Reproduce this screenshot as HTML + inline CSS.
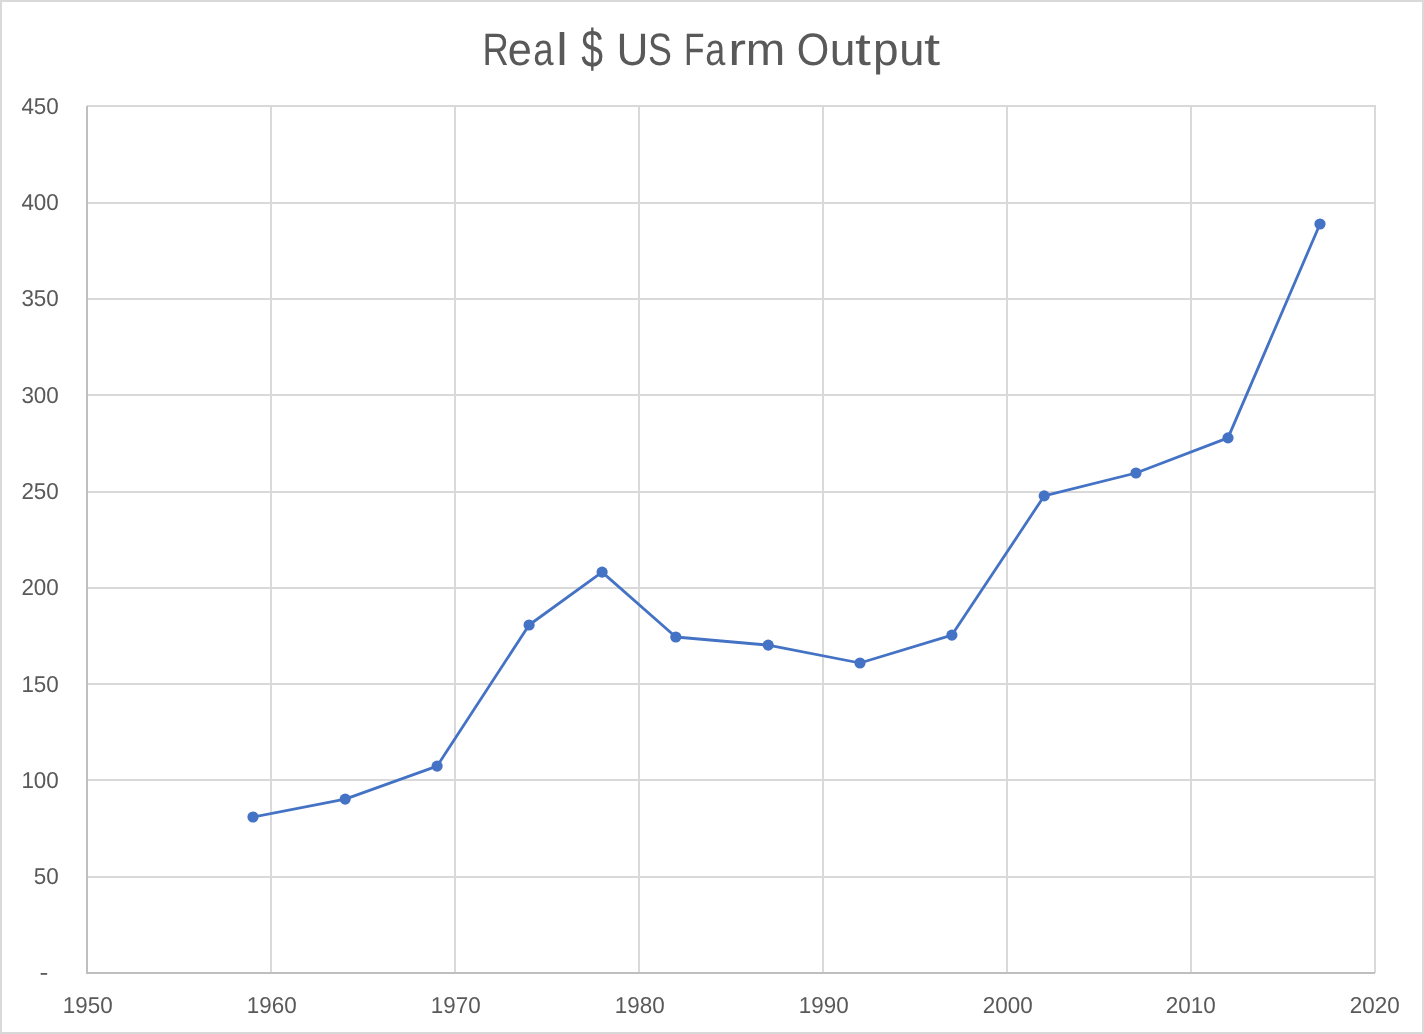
<!DOCTYPE html>
<html lang="en"><head><meta charset="utf-8"><title>Real $ US Farm Output</title>
<style>html,body{margin:0;padding:0;background:#fff}body{width:1424px;height:1034px;overflow:hidden}svg{display:block}
text{font-family:"Liberation Sans",Arial,sans-serif;fill:#595959;text-rendering:geometricPrecision}.ax{font-size:23px}.ti{font-size:45.6px}</style></head><body>
<svg width="1424" height="1034" viewBox="0 0 1424 1034">
<rect x="0" y="0" width="1424" height="1034" fill="#fff"/>
<rect x="1" y="1" width="1422" height="1032" fill="none" stroke="#D9D9D9" stroke-width="2"/>
<g fill="#D9D9D9" shape-rendering="crispEdges">
<rect x="87" y="105" width="1289" height="2"/>
<rect x="87" y="202" width="1289" height="2"/>
<rect x="87" y="298" width="1289" height="2"/>
<rect x="87" y="394" width="1289" height="2"/>
<rect x="87" y="491" width="1289" height="2"/>
<rect x="87" y="587" width="1289" height="2"/>
<rect x="87" y="683" width="1289" height="2"/>
<rect x="87" y="779" width="1289" height="2"/>
<rect x="87" y="876" width="1289" height="2"/>
<rect x="270" y="105" width="2" height="868"/>
<rect x="454" y="105" width="2" height="868"/>
<rect x="638" y="105" width="2" height="868"/>
<rect x="822" y="105" width="2" height="868"/>
<rect x="1006" y="105" width="2" height="868"/>
<rect x="1190" y="105" width="2" height="868"/>
<rect x="1374" y="105" width="2" height="868"/>
</g>
<g fill="#BFBFBF" shape-rendering="crispEdges">
<rect x="86" y="106" width="2" height="868"/>
<rect x="87" y="972" width="1288" height="2"/>
</g>
<polyline fill="none" stroke="#4472C4" stroke-width="2.8" stroke-linejoin="round" stroke-linecap="round" points="253.0,817.0 345.2,799.1 437.1,766.1 529.1,625.0 602.1,572.1 675.8,637.0 768.2,645.1 860.0,663.0 951.9,635.1 1044.2,495.9 1136.0,473.0 1228.0,437.9 1320.0,224.0"/>
<g fill="#4472C4">
<circle cx="253.0" cy="817.0" r="5.6"/>
<circle cx="345.2" cy="799.1" r="5.6"/>
<circle cx="437.1" cy="766.1" r="5.6"/>
<circle cx="529.1" cy="625.0" r="5.6"/>
<circle cx="602.1" cy="572.1" r="5.6"/>
<circle cx="675.8" cy="637.0" r="5.6"/>
<circle cx="768.2" cy="645.1" r="5.6"/>
<circle cx="860.0" cy="663.0" r="5.6"/>
<circle cx="951.9" cy="635.1" r="5.6"/>
<circle cx="1044.2" cy="495.9" r="5.6"/>
<circle cx="1136.0" cy="473.0" r="5.6"/>
<circle cx="1228.0" cy="437.9" r="5.6"/>
<circle cx="1320.0" cy="224.0" r="5.6"/>
</g>
<g class="ax" text-anchor="end">
<text transform="translate(58.8 113.6) scale(0.975 1)">450</text>
<text transform="translate(58.8 209.6) scale(0.975 1)">400</text>
<text transform="translate(58.8 305.6) scale(0.975 1)">350</text>
<text transform="translate(58.8 402.6) scale(0.975 1)">300</text>
<text transform="translate(58.8 498.6) scale(0.975 1)">250</text>
<text transform="translate(58.8 594.6) scale(0.975 1)">200</text>
<text transform="translate(58.8 691.6) scale(0.975 1)">150</text>
<text transform="translate(58.8 787.6) scale(0.975 1)">100</text>
<text transform="translate(58.8 883.6) scale(0.975 1)">50</text>
<text transform="translate(48.4 979.7) scale(1.15 1)">-</text>
</g>
<g class="ax" text-anchor="middle">
<text transform="translate(87.7 1012.6) scale(0.975 1)">1950</text>
<text transform="translate(271.7 1012.6) scale(0.975 1)">1960</text>
<text transform="translate(455.7 1012.6) scale(0.975 1)">1970</text>
<text transform="translate(639.7 1012.6) scale(0.975 1)">1980</text>
<text transform="translate(823.7 1012.6) scale(0.975 1)">1990</text>
<text transform="translate(1007.8 1012.6) scale(0.975 1)">2000</text>
<text transform="translate(1190.8 1012.6) scale(0.975 1)">2010</text>
<text transform="translate(1374.8 1012.6) scale(0.975 1)">2020</text>
</g>
<text class="ti" y="64.6"><tspan x="482.51" y="64.6" textLength="26.37" lengthAdjust="spacingAndGlyphs">R</tspan><tspan x="507.84" y="64.6" textLength="24.11" lengthAdjust="spacingAndGlyphs">e</tspan><tspan x="533.17" y="64.6" textLength="20.33" lengthAdjust="spacingAndGlyphs">a</tspan><tspan x="556.39" y="64.6" textLength="11.49" lengthAdjust="spacingAndGlyphs">l</tspan> <tspan x="581.23" y="67.1" font-size="53.4" textLength="21.75" lengthAdjust="spacingAndGlyphs">$</tspan> <tspan x="616.58" y="64.6" textLength="31.96" lengthAdjust="spacingAndGlyphs">U</tspan><tspan x="647.88" y="64.6" textLength="23.90" lengthAdjust="spacingAndGlyphs">S</tspan> <tspan x="683.95" y="64.6" textLength="20.50" lengthAdjust="spacingAndGlyphs">F</tspan><tspan x="705.20" y="64.6" textLength="20.00" lengthAdjust="spacingAndGlyphs">a</tspan><tspan x="728.22" y="64.6" textLength="17.78" lengthAdjust="spacingAndGlyphs">r</tspan><tspan x="745.69" y="64.6" textLength="39.55" lengthAdjust="spacingAndGlyphs">m</tspan> <tspan x="796.77" y="64.6" textLength="32.48" lengthAdjust="spacingAndGlyphs">O</tspan><tspan x="829.81" y="64.6" textLength="25.70" lengthAdjust="spacingAndGlyphs">u</tspan><tspan x="855.13" y="64.6" textLength="15.89" lengthAdjust="spacingAndGlyphs">t</tspan><tspan x="873.12" y="64.6" textLength="25.55" lengthAdjust="spacingAndGlyphs">p</tspan><tspan x="899.17" y="64.6" textLength="25.18" lengthAdjust="spacingAndGlyphs">u</tspan><tspan x="924.12" y="64.6" textLength="16.11" lengthAdjust="spacingAndGlyphs">t</tspan></text>
</svg></body></html>
